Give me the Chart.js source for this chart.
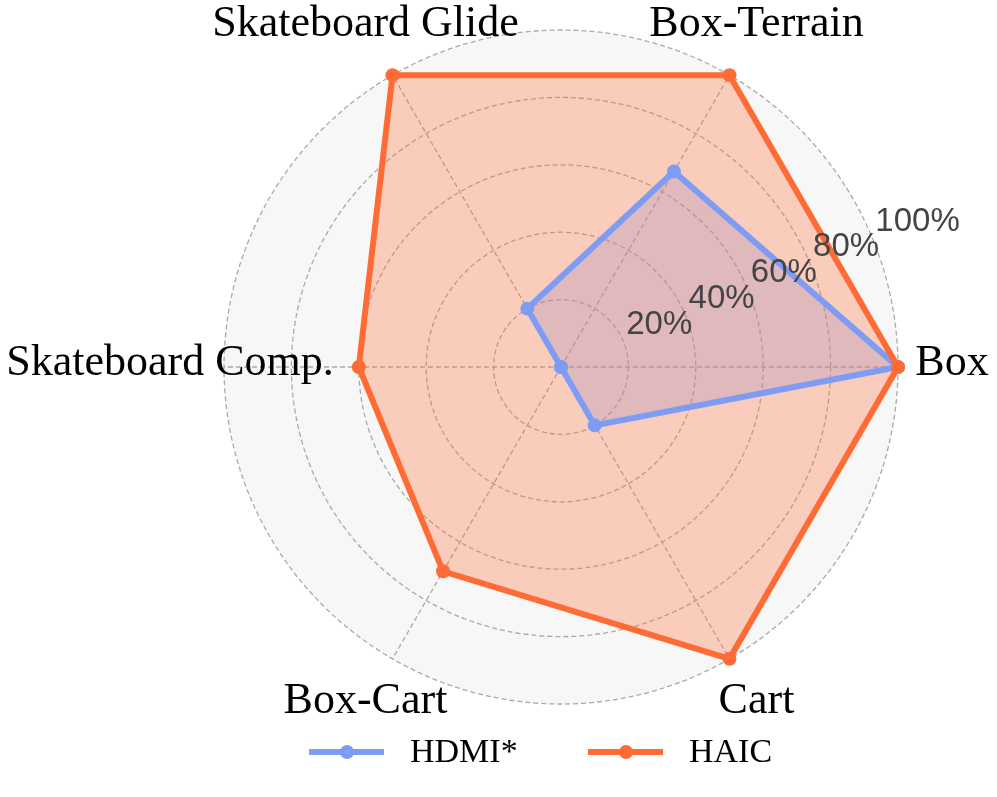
<!DOCTYPE html>
<html>
<head>
<meta charset="utf-8">
<script src="https://cdn.jsdelivr.net/npm/chart.js@4.4.1/dist/chart.umd.min.js"></script>
<style>
  html, body { margin: 0; padding: 0; background: #fff; }
  #wrap { width: 997px; height: 797px; position: relative; }
</style>
</head>
<body>
<div id="wrap"><canvas id="radar"></canvas></div>
<script>
// categories go clockwise starting from the right-hand axis
const categories = ["Box", "Cart", "Box-Cart", "Skateboard Comp.", "Skateboard Glide", "Box-Terrain"];
const hdmiValues = [100, 20, 0, 0, 20, 67];
const haicValues = [100, 100, 70, 60, 100, 100];
const tickValues = [20, 40, 60, 80, 100];
const tickLabels = ["20%", "40%", "60%", "80%", "100%"];
const seriesNames = ["HDMI*", "HAIC"];
const seriesColors = ["#7f9cf5", "#ff6b35"];
const seriesFills = ["rgba(127,156,245,0.3)", "rgba(255,107,53,0.3)"];

// tick labels at 22.5 deg and the category labels around the circle
const radarText = {
  id: 'radarText',
  afterDatasetsDraw(chart) {
    const r = chart.scales.r;
    const ctx = chart.ctx;
    ctx.save();
    ctx.font = '33px "Liberation Sans", Arial, sans-serif';
    ctx.fillStyle = '#444444';
    ctx.textAlign = 'left';
    ctx.textBaseline = 'bottom';
    const a = 22.5 * Math.PI / 180;
    tickValues.forEach((v, i) => {
      const d = r.getDistanceFromCenterForValue(v);
      ctx.fillText(tickLabels[i], r.xCenter + d * Math.cos(a) + 3, r.yCenter - d * Math.sin(a));
    });
    ctx.font = '44px "Liberation Serif", "Times New Roman", serif';
    ctx.fillStyle = '#000';
    ctx.textAlign = 'center';
    ctx.textBaseline = 'middle';
    categories.forEach((c, i) => {
      const p = r.getPointPosition(i, r.drawingArea + 54);
      ctx.fillText(c, p.x, p.y - 4);
    });
    ctx.restore();
  }
};

// legend: line with a dot, then the name
const lineLegend = {
  id: 'lineLegend',
  afterDraw(chart) {
    const ctx = chart.ctx;
    const y = 752;
    const starts = [309, 588];
    ctx.save();
    ctx.font = '34px "Liberation Serif", "Times New Roman", serif';
    ctx.textAlign = 'left';
    ctx.textBaseline = 'middle';
    seriesNames.forEach((name, i) => {
      const x = starts[i];
      ctx.strokeStyle = seriesColors[i];
      ctx.lineWidth = 6;
      ctx.beginPath();
      ctx.moveTo(x, y);
      ctx.lineTo(x + 75, y);
      ctx.stroke();
      ctx.fillStyle = seriesColors[i];
      ctx.beginPath();
      ctx.arc(x + 38, y, 7, 0, Math.PI * 2);
      ctx.fill();
      ctx.fillStyle = '#000';
      ctx.fillText(name, x + 101, y + 1);
    });
    ctx.restore();
  }
};

new Chart(document.getElementById('radar'), {
  type: 'radar',
  data: {
    labels: categories,
    datasets: [
      {
        label: seriesNames[0],
        data: hdmiValues,
        borderColor: seriesColors[0],
        backgroundColor: seriesFills[0],
        pointBackgroundColor: seriesColors[0],
        borderWidth: 6,
        pointRadius: 7,
        pointBorderWidth: 0,
        fill: true,
        order: 1
      },
      {
        label: seriesNames[1],
        data: haicValues,
        borderColor: seriesColors[1],
        backgroundColor: seriesFills[1],
        pointBackgroundColor: seriesColors[1],
        borderWidth: 6,
        pointRadius: 7,
        pointBorderWidth: 0,
        fill: true,
        order: 0
      }
    ]
  },
  options: {
    responsive: true,
    maintainAspectRatio: false,
    animation: false,
    events: [],
    layout: { padding: { left: 224, right: 98, top: 30, bottom: 92 } },
    plugins: {
      legend: { display: false },
      tooltip: { enabled: false },
      filler: { drawTime: 'beforeDatasetsDraw' }
    },
    scales: {
      r: {
        min: 0,
        max: 100,
        startAngle: 90,
        backgroundColor: '#f7f7f7',
        ticks: { stepSize: 20, display: false },
        pointLabels: { display: false },
        grid: { circular: true, color: '#aaaaaa', lineWidth: 1.3 },
        border: { dash: [5, 3] },
        angleLines: { color: '#aaaaaa', lineWidth: 1.3, borderDash: [5, 3] }
      }
    }
  },
  plugins: [radarText, lineLegend]
});
</script>
</body>
</html>
